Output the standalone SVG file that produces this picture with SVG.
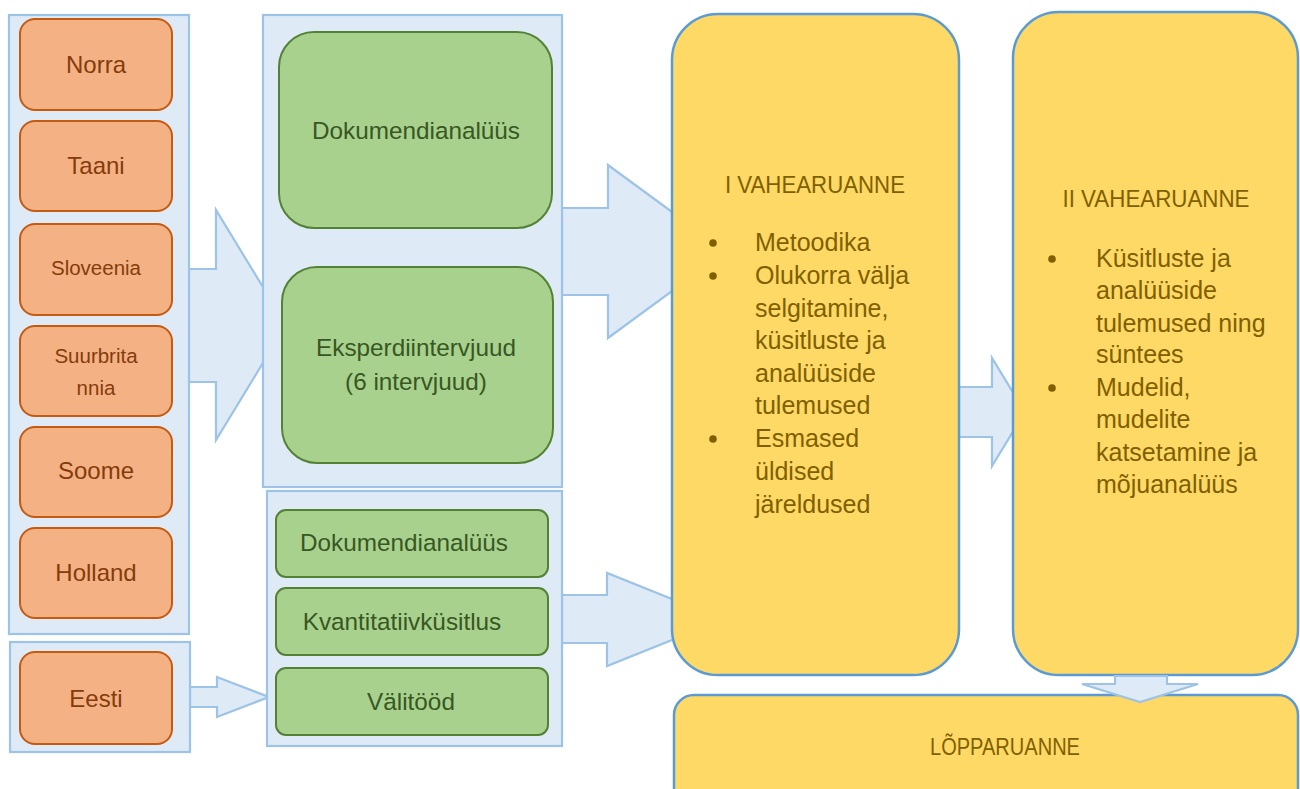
<svg xmlns="http://www.w3.org/2000/svg" width="1300" height="789" viewBox="0 0 1300 789">
<style>
.cont{fill:#DEEBF7;stroke:#9DC3E6;stroke-width:2.2}
.arr{fill:#DEEBF7;stroke:#9DC3E6;stroke-width:2.2;stroke-linejoin:miter}
.org{fill:#F4B183;stroke:#C55A11;stroke-width:2}
.grn{fill:#A9D18E;stroke:#538135;stroke-width:2}
.yel{fill:#FFD966;stroke:#5B9BD5;stroke-width:2.5}
text{font-family:"Liberation Sans",Arial,sans-serif}
.to{fill:#843C0C;font-size:24px;text-anchor:middle}
.tos{fill:#843C0C;font-size:20.5px;text-anchor:middle}
.tg{fill:#385723;font-size:24.3px;text-anchor:middle}
.ty{fill:#7F6000;font-size:25px}
.tt{fill:#7F6000;font-size:24px;text-anchor:middle}
.dot{fill:#7F6000}
</style>
<g id="connectors">
<polygon class="arr" points="189,269 216,269 216,210 286,325 216,440 216,382 189,382"/>
<polygon class="arr" points="190,687 217,687 217,677 269,697 217,717 217,707 190,707"/>
<polygon class="arr" points="562,208 608,208 608,165 726,251.5 608,338 608,295 562,295"/>
<polygon class="arr" points="562,595 607,595 607,573 723,619.5 607,666 607,643 562,643"/>
<polygon class="arr" points="959,387 992,387 992,358 1025,412 992,466 992,437 959,437"/>
</g>
<g id="container-countries"><rect class="cont" x="9" y="15" width="180" height="619"/></g>
<g id="container-eesti"><rect class="cont" x="10" y="642" width="180" height="110"/></g>
<g id="container-methods"><rect class="cont" x="263" y="15" width="299" height="472"/></g>
<g id="container-eesti-methods"><rect class="cont" x="267" y="491" width="295" height="255"/></g>
<g id="norra"><rect class="org" x="20" y="19" width="152" height="91" rx="15"/><text class="to" x="96" y="73">Norra</text></g>
<g id="taani"><rect class="org" x="20" y="121" width="152" height="90" rx="15"/><text class="to" x="96" y="174">Taani</text></g>
<g id="sloveenia"><rect class="org" x="20" y="224" width="152" height="91" rx="15"/><text class="tos" x="96" y="275">Sloveenia</text></g>
<g id="suurbritannia"><rect class="org" x="20" y="326" width="152" height="90" rx="15"/><text class="tos" x="96" y="363">Suurbrita</text><text class="tos" x="96" y="395">nnia</text></g>
<g id="soome"><rect class="org" x="20" y="427" width="152" height="90" rx="15"/><text class="to" x="96" y="479">Soome</text></g>
<g id="holland"><rect class="org" x="20" y="528" width="152" height="90" rx="15"/><text class="to" x="96" y="581">Holland</text></g>
<g id="eesti"><rect class="org" x="20" y="652" width="152" height="92" rx="15"/><text class="to" x="96" y="707">Eesti</text></g>
<g id="dokumendianalyys-1"><rect class="grn" x="279" y="32" width="273" height="196" rx="35"/><text class="tg" x="416" y="139">Dokumendianalüüs</text></g>
<g id="eksperdiintervjuud"><rect class="grn" x="282" y="267" width="271" height="196" rx="35"/><text class="tg" x="416" y="356">Eksperdiintervjuud</text><text class="tg" x="416" y="390">(6 intervjuud)</text></g>
<g id="dokumendianalyys-2"><rect class="grn" x="276" y="510" width="272" height="67" rx="10"/><text class="tg" x="404" y="551">Dokumendianalüüs</text></g>
<g id="kvantitatiivkysitlus"><rect class="grn" x="276" y="588" width="272" height="67" rx="10"/><text class="tg" x="402" y="630">Kvantitatiivküsitlus</text></g>
<g id="valitood"><rect class="grn" x="276" y="668" width="272" height="67" rx="10"/><text class="tg" x="411" y="710">Välitööd</text></g>
<g id="vahearuanne-1"><rect class="yel" x="672" y="14" width="287" height="661" rx="46"/>
<text class="tt" x="815" y="193" textLength="180" lengthAdjust="spacingAndGlyphs">I VAHEARUANNE</text>
<circle class="dot" cx="713" cy="243" r="3.8"/><circle class="dot" cx="713" cy="276" r="3.8"/><circle class="dot" cx="713" cy="439" r="3.8"/>
<text class="ty" x="755" y="251">Metoodika</text>
<text class="ty" x="755" y="284">Olukorra välja</text>
<text class="ty" x="755" y="317">selgitamine,</text>
<text class="ty" x="755" y="349">küsitluste ja</text>
<text class="ty" x="755" y="382">analüüside</text>
<text class="ty" x="755" y="414">tulemused</text>
<text class="ty" x="755" y="447">Esmased</text>
<text class="ty" x="755" y="480">üldised</text>
<text class="ty" x="755" y="513">järeldused</text>
</g>
<g id="vahearuanne-2"><rect class="yel" x="1013" y="12" width="285" height="663" rx="46"/>
<text class="tt" x="1156" y="207" textLength="187" lengthAdjust="spacingAndGlyphs">II VAHEARUANNE</text>
<circle class="dot" cx="1052" cy="259" r="3.8"/><circle class="dot" cx="1052" cy="388" r="3.8"/>
<text class="ty" x="1096" y="267">Küsitluste ja</text>
<text class="ty" x="1096" y="299">analüüside</text>
<text class="ty" x="1096" y="332">tulemused ning</text>
<text class="ty" x="1096" y="363">süntees</text>
<text class="ty" x="1096" y="396">Mudelid,</text>
<text class="ty" x="1096" y="428">mudelite</text>
<text class="ty" x="1096" y="461">katsetamine ja</text>
<text class="ty" x="1096" y="493">mõjuanalüüs</text>
</g>
<g id="lopparuanne"><rect class="yel" x="674" y="695" width="624" height="120" rx="20"/><text class="tt" x="1005" y="755" textLength="150" lengthAdjust="spacingAndGlyphs">LÕPPARUANNE</text></g>
<g id="connector-down"><polygon class="arr" points="1115,676 1167,676 1167,684 1198,684 1140,702 1082,684 1115,684"/></g>
</svg>
